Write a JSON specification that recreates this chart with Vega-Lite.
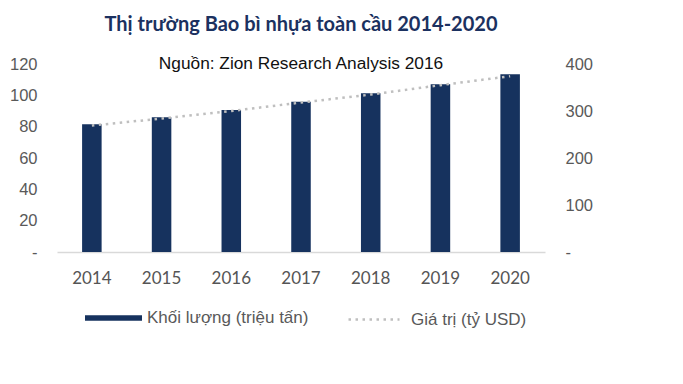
{
  "$schema": "https://vega.github.io/schema/vega-lite/v6.json",
  "autosize": "none",
  "width": 488,
  "height": 188,
  "padding": {"left": 57, "top": 64, "right": 138, "bottom": 132},
  "background": "white",
  "title": {
    "text": "Thị trường Bao bì nhựa toàn cầu 2014-2020",
    "subtitle": "Nguồn: Zion Research Analysis 2016",
    "anchor": "middle",
    "font": "Lato",
    "fontSize": 20,
    "fontWeight": "bold",
    "color": "#1b3160",
    "subtitleFont": "Liberation Sans",
    "subtitleFontSize": 17.3,
    "subtitleColor": "#111111",
    "subtitlePadding": 20,
    "offset": -16
  },
  "data": {
    "values": [
      {"year": "2014", "volume": 81.5, "value": 269, "s1": "Khối lượng (triệu tấn)", "s2": "Giá trị (tỷ USD)"},
      {"year": "2015", "volume": 86, "value": 284, "s1": "Khối lượng (triệu tấn)", "s2": "Giá trị (tỷ USD)"},
      {"year": "2016", "volume": 90.6, "value": 300, "s1": "Khối lượng (triệu tấn)", "s2": "Giá trị (tỷ USD)"},
      {"year": "2017", "volume": 95.9, "value": 318, "s1": "Khối lượng (triệu tấn)", "s2": "Giá trị (tỷ USD)"},
      {"year": "2018", "volume": 101.3, "value": 335, "s1": "Khối lượng (triệu tấn)", "s2": "Giá trị (tỷ USD)"},
      {"year": "2019", "volume": 107, "value": 355, "s1": "Khối lượng (triệu tấn)", "s2": "Giá trị (tỷ USD)"},
      {"year": "2020", "volume": 113.4, "value": 374, "s1": "Khối lượng (triệu tấn)", "s2": "Giá trị (tỷ USD)"}
    ]
  },
  "encoding": {
    "x": {
      "field": "year",
      "type": "ordinal",
      "scale": {"paddingInner": 0.72, "paddingOuter": 0.36},
      "axis": {
        "title": null,
        "labelAngle": 0,
        "labelFont": "Lato",
        "labelFontSize": 17,
        "labelColor": "#555555",
        "labelPadding": 18,
        "ticks": false,
        "domainColor": "#d9d9d9",
        "domainWidth": 1.5
      }
    }
  },
  "layer": [
    {
      "mark": {"type": "bar"},
      "encoding": {
        "y": {
          "field": "volume",
          "type": "quantitative",
          "scale": {"domain": [0, 120], "nice": false},
          "axis": {
            "title": null,
            "orient": "left",
            "values": [0, 20, 40, 60, 80, 100, 120],
            "labelExpr": "datum.value == 0 ? '-' : datum.label",
            "grid": false,
            "domain": false,
            "ticks": false,
            "labelFont": "Liberation Sans",
            "labelFontSize": 16.5,
            "labelColor": "#595959",
            "labelPadding": 20
          }
        },
        "color": {
          "field": "s1",
          "type": "nominal",
          "scale": {"range": ["#16325e"]},
          "legend": {
            "title": null,
            "orient": "none",
            "legendX": 28,
            "legendY": 225.5,
            "symbolType": "M-1,-0.1H1V0.1H-1Z",
            "symbolSize": 3249,
            "symbolStrokeWidth": 0,
            "symbolOpacity": 1,
            "labelFont": "Liberation Sans",
            "labelFontSize": 17,
            "labelColor": "#595959",
            "labelOffset": 5,
            "labelLimit": 400
          }
        }
      }
    },
    {
      "mark": {"type": "line", "strokeWidth": 2.5, "strokeDash": [2.5, 4.5]},
      "encoding": {
        "y": {
          "field": "value",
          "type": "quantitative",
          "scale": {"domain": [0, 400], "nice": false},
          "axis": {
            "title": null,
            "orient": "right",
            "values": [0, 100, 200, 300, 400],
            "labelExpr": "datum.value == 0 ? '-' : datum.label",
            "grid": false,
            "domain": false,
            "ticks": false,
            "labelFont": "Liberation Sans",
            "labelFontSize": 16.5,
            "labelColor": "#595959",
            "labelPadding": 20
          }
        },
        "stroke": {
          "field": "s2",
          "type": "nominal",
          "scale": {"range": ["#bfbfbf"]},
          "legend": {
            "title": null,
            "orient": "none",
            "legendX": 290,
            "legendY": 228.5,
            "symbolType": "M-1,0H1",
            "symbolSize": 2601,
            "symbolStrokeWidth": 2.5,
            "symbolDash": [2.5, 4.5],
            "labelFont": "Liberation Sans",
            "labelFontSize": 17,
            "labelColor": "#595959",
            "labelOffset": 10,
            "labelLimit": 400
          }
        }
      }
    }
  ],
  "resolve": {"scale": {"y": "independent", "color": "independent"}},
  "config": {"view": {"stroke": null}}
}
